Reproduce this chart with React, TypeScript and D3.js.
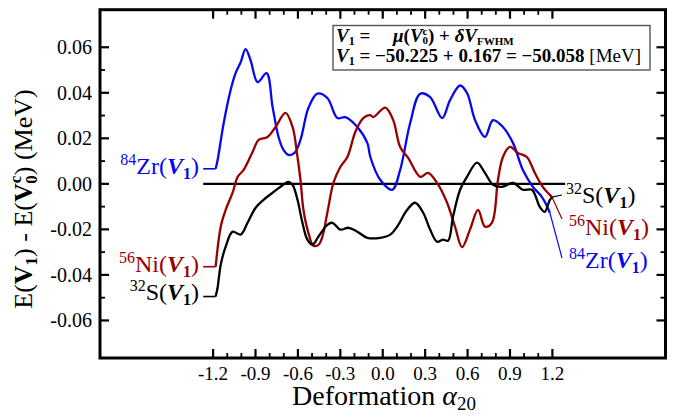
import React from 'react';
import * as d3 from 'd3';

const FONT = "'Liberation Serif', 'DejaVu Serif', 'Noto Serif', 'Times New Roman', serif";

const xMajorTicks = [-1.2, -0.9, -0.6, -0.3, 0, 0.3, 0.6, 0.9, 1.2];
const xTickLabels = ['-1.2', '-0.9', '-0.6', '-0.3', '0.0', '0.3', '0.6', '0.9', '1.2'];
const xMinorTicks = [-1.1, -1.0, -0.8, -0.7, -0.5, -0.4, -0.2, -0.1, 0.1, 0.2, 0.4, 0.5, 0.7, 0.8, 1.0, 1.1];
const yMajorTicks = [0.06, 0.04, 0.02, 0, -0.02, -0.04, -0.06];
const yTickLabels = ['0.06', '0.04', '0.02', '0.00', '-0.02', '-0.04', '-0.06'];
const yMinorTicks = [0.05, 0.03, 0.01, -0.01, -0.03, -0.05];

const refLineExtent = [-1.27, 1.29];

const zrPoints: [number, number][] = [
  [-1.182, 0.0066], [-1.168, 0.0105], [-1.125, 0.0267], [-1.076, 0.0412], [-1.041, 0.0486],
  [-1.005, 0.0534], [-0.97, 0.0592], [-0.935, 0.0543], [-0.885, 0.0447], [-0.822, 0.0486],
  [-0.779, 0.0337], [-0.737, 0.0206], [-0.702, 0.0149], [-0.667, 0.0127], [-0.624, 0.0136],
  [-0.582, 0.0193], [-0.526, 0.0333], [-0.462, 0.0396], [-0.392, 0.0377], [-0.321, 0.0289],
  [-0.265, 0.0293], [-0.18, 0.025], [-0.109, 0.018], [-0.088, 0.0118], [-0.018, 0.0018],
  [0.067, -0.0026], [0.123, 0.0061], [0.194, 0.0267], [0.265, 0.0396], [0.335, 0.0381],
  [0.42, 0.0289], [0.476, 0.0368], [0.547, 0.0432], [0.596, 0.0399], [0.653, 0.028],
  [0.723, 0.0206], [0.78, 0.028], [0.85, 0.025], [0.921, 0.018], [0.991, 0.0061],
  [1.062, -0.0013], [1.125, -0.0057], [1.182, -0.0127],
];

const niPoints: [number, number][] = [
  [-1.182, -0.0364], [-1.146, -0.0188], [-1.111, -0.0114], [-1.062, -0.0039], [-1.026, 0.0031],
  [-0.984, 0.0061], [-0.921, 0.014], [-0.878, 0.0193], [-0.815, 0.0206], [-0.758, 0.025],
  [-0.688, 0.0312], [-0.638, 0.025], [-0.603, 0.0118], [-0.582, 0.0018], [-0.561, -0.0114],
  [-0.526, -0.0215], [-0.49, -0.0272], [-0.455, -0.0268], [-0.427, -0.0232], [-0.392, -0.0127],
  [-0.349, 0.0004], [-0.3, 0.0074], [-0.25, 0.0118], [-0.194, 0.0228], [-0.138, 0.0289],
  [-0.088, 0.0302], [-0.067, 0.0293], [0.018, 0.0335], [0.074, 0.028], [0.123, 0.0162],
  [0.18, 0.0114], [0.265, 0.0031], [0.321, 0.0048], [0.384, 0.0004], [0.455, -0.0083],
  [0.511, -0.0188], [0.561, -0.0278], [0.617, -0.0201], [0.674, -0.0114], [0.723, -0.0188],
  [0.772, -0.0171], [0.815, 0.0018], [0.85, 0.0118], [0.899, 0.0162], [0.956, 0.0136],
  [1.019, 0.0118], [1.076, 0.0048], [1.132, -0.0013], [1.196, -0.0057],
];

const sPoints: [number, number][] = [
  [-1.182, -0.0495], [-1.168, -0.0455], [-1.146, -0.0355], [-1.111, -0.0276], [-1.062, -0.021],
  [-1.005, -0.0223], [-0.956, -0.0171], [-0.899, -0.0105], [-0.843, -0.007], [-0.779, -0.0039],
  [-0.723, -0.0013], [-0.667, 0.0009], [-0.638, -0.0004], [-0.603, -0.007], [-0.568, -0.0171],
  [-0.533, -0.0245], [-0.497, -0.0267], [-0.455, -0.0232], [-0.392, -0.018], [-0.356, -0.0171],
  [-0.3, -0.0201], [-0.243, -0.0193], [-0.18, -0.021], [-0.109, -0.0237], [-0.018, -0.0237],
  [0.053, -0.0223], [0.102, -0.0188], [0.173, -0.0114], [0.229, -0.0083], [0.286, -0.0127],
  [0.335, -0.0201], [0.384, -0.0254], [0.427, -0.0245], [0.462, -0.025], [0.497, -0.0145],
  [0.547, -0.0026], [0.596, 0.0031], [0.667, 0.0093], [0.723, 0.0048], [0.78, -0.0004],
  [0.843, -0.0013], [0.921, 0.0004], [0.991, -0.0026], [1.055, -0.0026], [1.111, -0.0101],
  [1.146, -0.0123], [1.182, -0.007], [1.203, -0.0057],
];

const BLUE = '#0808ee';
const RED = '#960000';
const BLACK = '#000000';

const txt = { fontFamily: FONT };

type LabelProps = { x: number; y: number; mass: string; sym: string; color: string; anchor: 'start' | 'end' };
function IsoLabel({ x, y, mass, sym, color, anchor }: LabelProps) {
  return (
    <text x={x} y={y} fill={color} fontSize={24} textAnchor={anchor} style={txt}>
      <tspan fontSize={16} dy={-9}>{mass}</tspan>
      <tspan dy={9}>{sym}(</tspan>
      <tspan fontWeight="bold" fontStyle="italic">V</tspan>
      <tspan fontSize={16} fontWeight="bold" dy={5}>1</tspan>
      <tspan dy={-5}>)</tspan>
    </text>
  );
}

export default function App() {
  const W = 685, H = 417;
  const left = 100, right = 665.5, top = 9.7, bottom = 358;
  const x = d3.scaleLinear().domain([-2, 2]).range([left, right]);
  const y = d3.scaleLinear().domain([-0.0765, 0.0765]).range([bottom, top]);
  const line = d3.line<[number, number]>()
    .x((d) => x(d[0]))
    .y((d) => y(d[1]))
    .curve(d3.curveCatmullRom.alpha(0.5));

  const series = [
    { pts: zrPoints, color: BLUE, rLabel: [562, 258] },
    { pts: niPoints, color: RED, rLabel: [562, 219] },
    { pts: sPoints, color: BLACK, rLabel: [562, 195] },
  ];

  return (
    <svg width={W} height={H} style={{ position: 'absolute', left: 0, top: 0, background: '#fff', fontFamily: FONT }}>
      {xMajorTicks.map((t) => (
        <g key={'xM' + t} stroke="#000" strokeWidth={2.2}>
          <line x1={x(t)} x2={x(t)} y1={bottom} y2={bottom - 9} />
          <line x1={x(t)} x2={x(t)} y1={top} y2={top + 9} />
        </g>
      ))}
      {xMinorTicks.map((t) => (
        <g key={'xm' + t} stroke="#000" strokeWidth={1.8}>
          <line x1={x(t)} x2={x(t)} y1={bottom} y2={bottom - 5} />
          <line x1={x(t)} x2={x(t)} y1={top} y2={top + 5} />
        </g>
      ))}
      {yMajorTicks.map((t) => (
        <g key={'yM' + t} stroke="#000" strokeWidth={2.2}>
          <line x1={left} x2={left + 9} y1={y(t)} y2={y(t)} />
          <line x1={right} x2={right - 9} y1={y(t)} y2={y(t)} />
        </g>
      ))}
      {yMinorTicks.map((t) => (
        <g key={'ym' + t} stroke="#000" strokeWidth={1.8}>
          <line x1={left} x2={left + 5} y1={y(t)} y2={y(t)} />
          <line x1={right} x2={right - 5} y1={y(t)} y2={y(t)} />
        </g>
      ))}
      {xMajorTicks.map((t, i) => (
        <text key={'xl' + t} x={x(t)} y={380} fontSize={19} textAnchor="middle" style={txt}>{xTickLabels[i]}</text>
      ))}
      {yMajorTicks.map((t, i) => (
        <text key={'yl' + t} x={92} y={y(t) + 7} fontSize={20} textAnchor="end" style={txt}>{yTickLabels[i]}</text>
      ))}

      <line x1={x(refLineExtent[0])} x2={x(refLineExtent[1])} y1={y(0)} y2={y(0)} stroke="#000" strokeWidth={2.4} />

      {series.map((s, i) => {
        const first = s.pts[0];
        const last = s.pts[s.pts.length - 1];
        return (
          <g key={i}>
            <line x1={x(refLineExtent[0])} x2={x(first[0])} y1={y(first[1])} y2={y(first[1])} stroke={s.color} strokeWidth={1.6} />
            <line x1={x(last[0])} y1={y(last[1])} x2={s.rLabel[0]} y2={s.rLabel[1]} stroke={s.color} strokeWidth={1.2} />
            <path d={line(s.pts) || ''} fill="none" stroke={s.color} strokeWidth={2.3} strokeLinejoin="round" />
          </g>
        );
      })}

      <IsoLabel x={199} y={y(zrPoints[0][1]) + 5} mass="84" sym="Zr" color={BLUE} anchor="end" />
      <IsoLabel x={199} y={y(niPoints[0][1]) + 5} mass="56" sym="Ni" color={RED} anchor="end" />
      <IsoLabel x={199} y={y(sPoints[0][1]) + 3} mass="32" sym="S" color={BLACK} anchor="end" />
      <IsoLabel x={566} y={203} mass="32" sym="S" color={BLACK} anchor="start" />
      <IsoLabel x={569} y={235} mass="56" sym="Ni" color={RED} anchor="start" />
      <IsoLabel x={569} y={268} mass="84" sym="Zr" color={BLUE} anchor="start" />

      <rect x={333} y={25.5} width={317} height={44.5} fill="#fff" stroke="#555" strokeWidth={1.4} />
      <text x={336} y={42} fontSize={19} fontWeight="bold" style={txt}>
        <tspan fontStyle="italic">V</tspan>
        <tspan fontSize={12} dy={3}>1</tspan>
        <tspan dy={-3}> =</tspan>
      </text>
      <text x={393} y={42} fontSize={19} fontWeight="bold" style={txt}>
        <tspan fontStyle="italic">μ</tspan>
        <tspan>(</tspan>
        <tspan fontStyle="italic">V</tspan>
        <tspan fontSize={11} dy={-7}>c</tspan>
        <tspan fontSize={11} dx={-5} dy={9}>0</tspan>
        <tspan dy={-2}>) + </tspan>
        <tspan fontStyle="italic">δV</tspan>
        <tspan fontSize={11} dy={3}>FWHM</tspan>
      </text>
      <text x={336} y={62} fontSize={19} fontWeight="bold" style={txt}>
        <tspan fontStyle="italic">V</tspan>
        <tspan fontSize={12} dy={3}>1</tspan>
        <tspan dy={-3}> = −50.225 + 0.167 = −50.058 </tspan>
        <tspan fontWeight="normal">[MeV]</tspan>
      </text>

      <text x={384} y={405} fontSize={28} textAnchor="middle" style={txt}>
        <tspan>Deformation </tspan>
        <tspan fontStyle="italic">α</tspan>
        <tspan fontSize={19} dy={5}>20</tspan>
      </text>
      <text transform="translate(32,199) rotate(-90)" fontSize={26} textAnchor="middle" style={txt}>
        <tspan>E(</tspan>
        <tspan fontWeight="bold">V</tspan>
        <tspan fontSize={17} fontWeight="bold" dy={5}>1</tspan>
        <tspan dy={-5}>) - E(</tspan>
        <tspan fontWeight="bold">V</tspan>
        <tspan fontSize={17} fontWeight="bold" dy={-11}>c</tspan>
        <tspan fontSize={17} fontWeight="bold" dx={-8} dy={16}>0</tspan>
        <tspan dy={-5}>) (MeV)</tspan>
      </text>

      <rect x={left} y={top} width={right - left} height={bottom - top} fill="none" stroke="#000" strokeWidth={3} />
    </svg>
  );
}
